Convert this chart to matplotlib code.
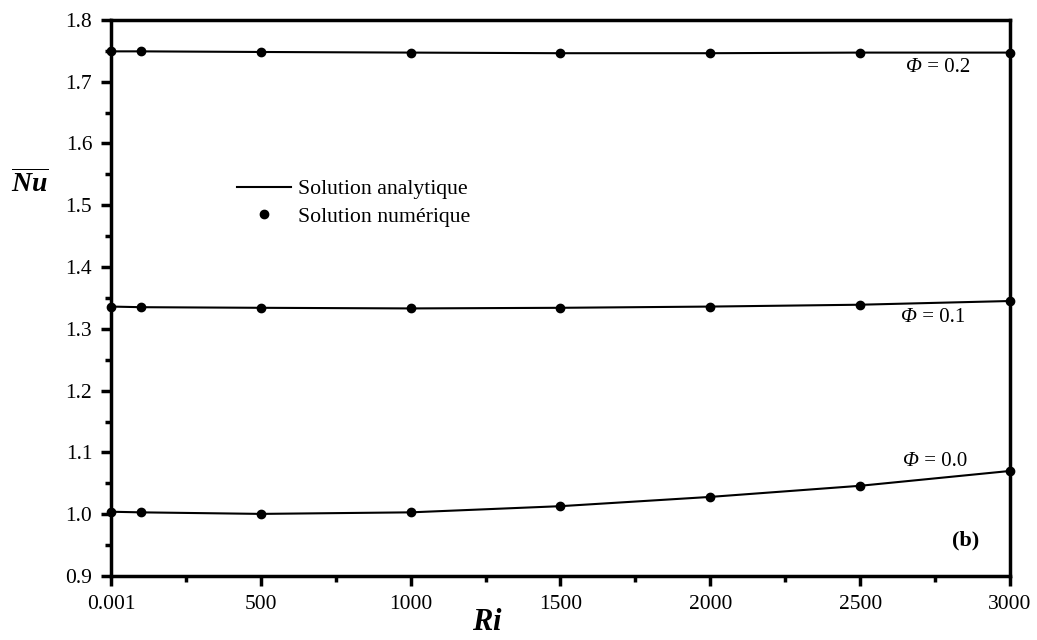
import matplotlib
matplotlib.use("Agg")
import matplotlib.pyplot as plt
from matplotlib.ticker import MultipleLocator

plt.rcParams['font.family'] = ['Liberation Serif', 'DejaVu Serif']
plt.rcParams['mathtext.fontset'] = 'custom'
plt.rcParams['mathtext.rm'] = 'Liberation Serif'
plt.rcParams['mathtext.it'] = 'Liberation Serif:italic'
plt.rcParams['mathtext.bf'] = 'Liberation Serif:bold:italic'

# Richardson number values
ri = [0, 100, 500, 1000, 1500, 2000, 2500, 3000]

# mean Nusselt number for each volume fraction
nu_phi00 = [1.004, 1.003, 1.0005, 1.003, 1.013, 1.028, 1.046, 1.070]
nu_phi01 = [1.336, 1.335, 1.334, 1.333, 1.334, 1.336, 1.339, 1.345]
nu_phi02 = [1.749, 1.749, 1.748, 1.747, 1.746, 1.746, 1.747, 1.747]

series = [nu_phi00, nu_phi01, nu_phi02]
phi_values = ['0.0', '0.1', '0.2']
label_pos = [(2696, 1.086), (2690, 1.318), (2706, 1.7226)]

xticks = [0, 500, 1000, 1500, 2000, 2500, 3000]
xticklabels = ['0.001', '500', '1000', '1500', '2000', '2500', '3000']

fig = plt.figure(figsize=(10.37, 6.4), dpi=100)
ax = fig.add_axes([0.107, 0.1, 0.867, 0.869])

for i, vals in enumerate(series):
    lab_line = 'Solution analytique' if i == 0 else None
    lab_pts = 'Solution numérique' if i == 0 else None
    ax.plot(ri, vals, color='black', lw=1.5, label=lab_line, clip_on=False)
    ax.plot(ri, vals, 'o', color='black', ms=6, label=lab_pts, clip_on=False, zorder=5)
    # italic Phi, upright value
    x, y = label_pos[i]
    ax.text(x, y, 'Φ', fontsize=15, style='italic', ha='right', va='center')
    ax.text(x, y, ' = ' + phi_values[i], fontsize=15, ha='left', va='center')

ax.text(2853, 0.958, '(b)', fontsize=16, fontweight='bold', ha='center', va='center')

ax.set_xlim(0, 3000)
ax.set_ylim(0.9, 1.8)
ax.set_xticks(xticks)
ax.set_xticklabels(xticklabels)
ax.xaxis.set_minor_locator(MultipleLocator(250))
ax.yaxis.set_major_locator(MultipleLocator(0.1))
ax.yaxis.set_minor_locator(MultipleLocator(0.05))

for s in ax.spines.values():
    s.set_linewidth(2.5)
ax.tick_params(which='major', direction='out', length=7.5, width=2.5, labelsize=15.5,
               pad=6, top=False, right=False)
ax.tick_params(which='minor', direction='out', length=4, width=2.5, top=False, right=False)

ax.text(0.419, -0.083, r'$\mathbf{Ri}$', fontsize=22, transform=ax.transAxes,
        ha='center', va='center')
ax.text(-0.09, 0.705, r'$\overline{\mathbf{Nu}}$', fontsize=20, transform=ax.transAxes,
        ha='center', va='center')

ax.legend(loc='upper left', bbox_to_anchor=(0.14, 0.714), frameon=False, fontsize=15.7,
          handlelength=2.5, handletextpad=0.32, labelspacing=0.33,
          borderpad=0, borderaxespad=0)

fig.savefig('out.png', dpi=100)
